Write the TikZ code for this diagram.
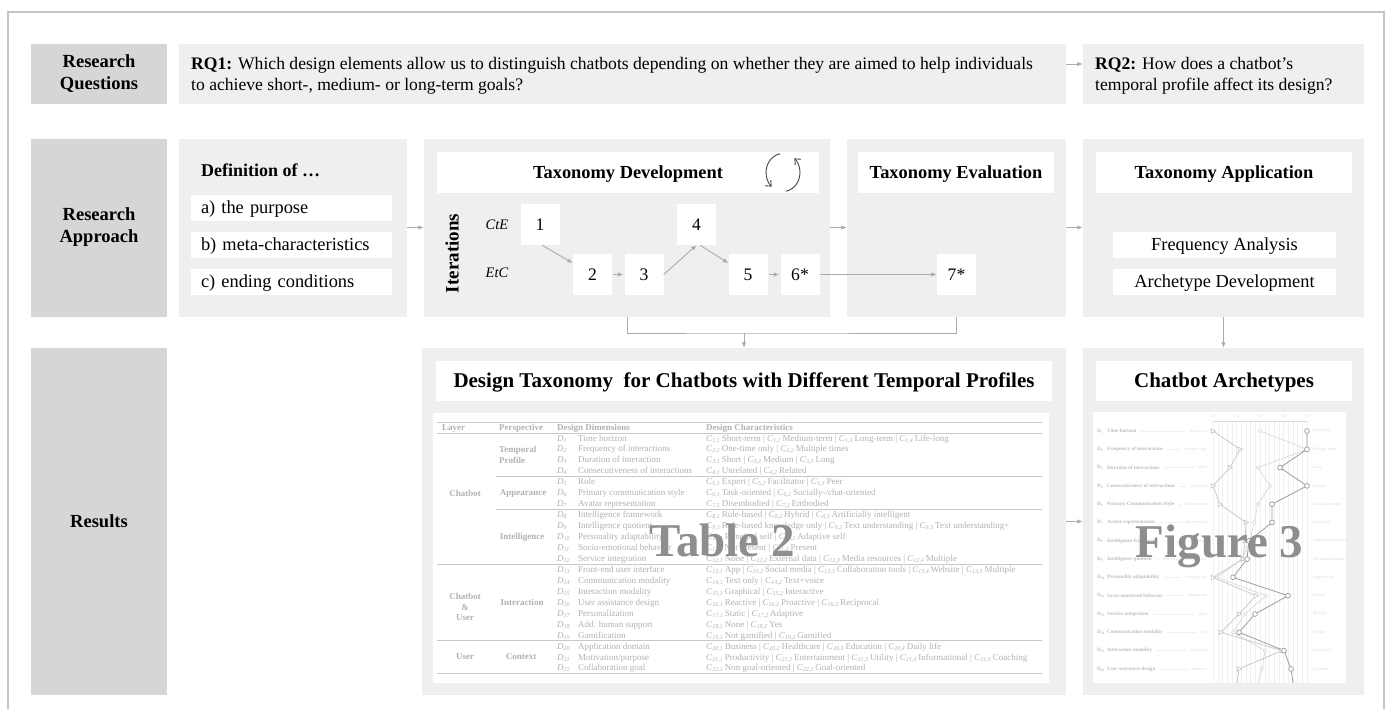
\documentclass[tikz,border=0pt]{standalone}
\usepackage{fontspec}
\setmainfont{Liberation Serif}
\usetikzlibrary{arrows.meta}
\definecolor{labc}{HTML}{D6D6D6}
\definecolor{panc}{HTML}{EFEFEF}
\definecolor{arrc}{HTML}{ABABAB}
\definecolor{frmc}{HTML}{C4C4C4}
\definecolor{tabc}{HTML}{B2B2B2}
\definecolor{rulec}{HTML}{C8C8C8}
\definecolor{bigc}{HTML}{8E8E8E}
\definecolor{icoc}{HTML}{444444}
\definecolor{figa}{HTML}{9C9C9C}
\definecolor{figb}{HTML}{C6C6C6}
\definecolor{figc}{HTML}{DADADA}
\definecolor{figt}{HTML}{BDBDBD}
\definecolor{gridc}{HTML}{F0F0F0}
\newcommand\cx[1]{\textit{C}\textsubscript{\textit{#1}}\,}
\newcommand\dx[1]{\textit{D}\textsubscript{\textit{#1}}}
\newcommand\trow[3]{%
  \node[tx,anchor=base west] (td#1) at (557,{441+(#1-1)*10.95}) {\dx{#1}};
  \node[tx,anchor=base west] (tn#1) at (578,{441+(#1-1)*10.95}) {#2};
  \node[tx,anchor=base west] (tc#1) at (706,{441+(#1-1)*10.95}) {#3};}
\begin{document}
\begin{tikzpicture}[x=1pt,y=-1pt,
  lab/.style={fill=labc, inner sep=0pt, font=\fontsize{18.5}{22}\selectfont\bfseries, align=center},
  pan/.style={fill=panc, inner sep=0pt},
  wb/.style={fill=white, inner sep=0pt},
  ttl/.style={fill=white, inner sep=0pt, font=\fontsize{18.4}{20}\selectfont\bfseries, text height=12pt, text depth=1pt},
  ttlb/.style={ttl, font=\fontsize{21}{22}\selectfont\bfseries, text height=13.5pt, text depth=1pt},
  item/.style={fill=white, inner sep=0pt, font=\fontsize{18.4}{20}\selectfont, text height=12pt, text depth=1pt},
  body/.style={inner sep=0pt, font=\fontsize{17.6}{21}\selectfont},
  nb/.style={fill=white, inner sep=0pt, minimum width=39pt, minimum height=41pt, font=\fontsize{17.6}{20}\selectfont, text height=11.5pt, text depth=0pt},
  con/.style={draw=arrc, line width=0.9pt},
  arw/.style={con, -{Latex[length=5.5pt,width=4.5pt]}},
  tx/.style={inner sep=0pt, text=tabc, font=\fontsize{9}{10}\selectfont},
  txb/.style={tx, font=\fontsize{9}{10.5}\selectfont\bfseries},
  tr/.style={draw=rulec, line width=0.5pt},
  big/.style={inner sep=0pt, text=bigc, font=\fontsize{47}{50}\selectfont\bfseries},
  fl/.style={inner sep=0pt, text=figt, font=\fontsize{5.1}{5.5}\selectfont\bfseries},
  fs/.style={inner sep=0pt, text=figc, font=\fontsize{4}{4.5}\selectfont\itshape},
  ico/.style={draw=icoc, line width=0.9pt, -{Straight Barb[length=4.5pt,width=8pt]}}
]
\useasboundingbox (0,0) rectangle (1389,709);
\fill[white] (0,0) rectangle (1389,709);
\draw[frmc, line width=1.6pt] (8,12) rectangle (1384,730);

% ---------- row 1
\node[lab, minimum width=136pt, minimum height=60pt] (rq) at (99,74) {Research\\Questions};
\node[pan, minimum width=887pt, minimum height=60pt] (rq1) at (622.5,74) {};
\node[body, anchor=west, align=left] (rq1t) at (191,75.5) {\textbf{RQ1:} Which design elements allow us to distinguish chatbots depending on whether they are aimed to help individuals\\to achieve short-, medium- or long-term goals?};
\node[pan, minimum width=281pt, minimum height=60pt] (rq2) at (1223.5,74) {};
\node[body, anchor=west, align=left] (rq2t) at (1095,75.5) {\textbf{RQ2:} How does a chatbot’s\\temporal profile affect its design?};
\draw[arw] ([yshift=10pt]rq1.east) -- ([yshift=10pt]rq2.west);

% ---------- row 2
\node[lab, minimum width=136pt, minimum height=178pt] (ra) at (99,227.5) {Research\\Approach};
\node[pan, minimum width=228pt, minimum height=178pt] (def) at (293,227.5) {};
\node[body, anchor=base west, font=\fontsize{18}{20}\selectfont\bfseries] (deft) at (201,176) {Definition of \ldots};
\node[item, minimum width=201pt, minimum height=26pt, text width=181pt, align=left] (da) at (291.5,208) {a) the purpose};
\node[item, minimum width=201pt, minimum height=26pt, text width=181pt, align=left] (db) at (291.5,245) {b) meta-characteristics};
\node[item, minimum width=201pt, minimum height=26pt, text width=181pt, align=left] (dc) at (291.5,282) {c) ending conditions};

\node[pan, minimum width=406pt, minimum height=178pt] (tdev) at (627,227.5) {};
\node[ttl, minimum width=382pt, minimum height=41pt] (tdevt) at (628,172.5) {Taxonomy Development};
\node[pan, minimum width=219pt, minimum height=178pt] (eval) at (956.5,227.5) {};
\node[ttl, minimum width=196pt, minimum height=41pt] (evalt) at (956,172.5) {Taxonomy Evaluation};
\node[pan, minimum width=281pt, minimum height=178pt] (app) at (1223.5,227.5) {};
\node[ttl, minimum width=256pt, minimum height=41pt] (appt) at (1224,172.5) {Taxonomy Application};
\node[item, minimum width=223pt, minimum height=26pt] (fa) at (1224.5,245) {Frequency Analysis};
\node[item, minimum width=223pt, minimum height=26pt] (ad) at (1224.5,282) {Archetype Development};

% cycle icon
\begin{scope}[shift={(783,172.5)}, yscale=-1]
  \draw[ico] (100:17 and 19) arc[start angle=100, end angle=228, x radius=17, y radius=19];
  \draw[ico] (280:17 and 19) arc[start angle=280, end angle=408, x radius=17, y radius=19];
\end{scope}

\node[inner sep=0pt, rotate=90, font=\fontsize{19}{20}\selectfont\bfseries] (iter) at (452,253.5) {Iterations};
\node[inner sep=0pt, font=\fontsize{14.5}{16}\selectfont\itshape] (cte) at (497,225) {CtE};
\node[inner sep=0pt, font=\fontsize{14.5}{16}\selectfont\itshape] (etc) at (497,273) {EtC};

\node[nb] (n1) at (540,224.5) {1};
\node[nb] (n2) at (592.5,274.5) {2};
\node[nb] (n3) at (644,274.5) {3};
\node[nb] (n4) at (696.5,224.5) {4};
\node[nb] (n5) at (748,274.5) {5};
\node[nb] (n6) at (800,274.5) {6*};
\node[nb] (n7) at (956.5,274.5) {7*};

\draw[arw] (n1.-84) -- (n2.150);
\draw[arw, shorten <=1pt, shorten >=1pt] (n2.east) -- (n3.west);
\draw[arw] (n3.east) -- (n4.south);
\draw[arw] (n4.-80) -- (n5.150);
\draw[arw, shorten <=1pt, shorten >=1pt] (n5.east) -- (n6.west);
\draw[arw] (n6.east) -- (n7.west);

\draw[arw] (def.east) -- (tdev.west);
\draw[arw] (tdev.east) -- (eval.west);
\draw[arw] (eval.east) -- (app.west);

% ---------- row 3
\node[lab, minimum width=136pt, minimum height=347pt] (res) at (99,521.5) {Results};
\node[pan, minimum width=644pt, minimum height=347pt] (dtax) at (744,521.5) {};
\node[ttlb, minimum width=616pt, minimum height=40pt] (dtaxt) at (744,381) {Design Taxonomy\ \ for Chatbots with Different Temporal Profiles};
\node[wb, minimum width=616pt, minimum height=270pt] (tab) at (741,548) {};
\node[pan, minimum width=281pt, minimum height=347pt] (arch) at (1223.5,521.5) {};
\node[ttlb, minimum width=256pt, minimum height=40pt] (archt) at (1224,381) {Chatbot Archetypes};
\node[wb, minimum width=253pt, minimum height=271pt] (fig) at (1219.5,547.5) {};

\coordinate (j) at (744,333);
\draw[con] (tdev.south) |- (j) -| (eval.south);
\draw[arw] (j) -- (dtax.north);
\draw[arw] (app.south) -- (arch.north);
\draw[arw] (dtax.east) -- (arch.west);

% ---------- table 2
\draw[tr] (437,422) -- (1042,422);
\draw[tr] (437,433) -- (1042,433);
\draw[tr] (496,476.3) -- (1042,476.3);
\draw[tr] (496,509.2) -- (1042,509.2);
\draw[tr] (437,563.9) -- (1042,563.9);
\draw[tr] (437,640.6) -- (1042,640.6);
\draw[tr] (437,673.5) -- (1042,673.5);
\node[txb, anchor=base west] (hl) at (442,430.5) {Layer};
\node[txb, anchor=base west] (hp) at (499,430.5) {Perspective};
\node[txb, anchor=base west] (hd) at (557,430.5) {Design Dimensions};
\node[txb, anchor=base west] (hc) at (706,430.5) {Design Characteristics};
\node[txb] (l1) at (465,493) {Chatbot};
\node[txb, align=center] (l2) at (465,607) {Chatbot\\\&\\User};
\node[txb] (l3) at (465,657) {User};
\node[txb, anchor=west, align=left] (p1) at (499,455) {Temporal\\Profile};
\node[txb] (p2) at (523,493) {Appearance};
\node[txb] (p3) at (522,537) {Intelligence};
\node[txb] (p4) at (522,602) {Interaction};
\node[txb] (p5) at (521,657) {Context};
\trow{1}{Time horizon}{\cx{1,1}Short-term | \cx{1,2}Medium-term | \cx{1,3}Long-term | \cx{1,4}Life-long}
\trow{2}{Frequency of interactions}{\cx{2,1}One-time only | \cx{2,2}Multiple times}
\trow{3}{Duration of interaction}{\cx{3,1}Short | \cx{3,2}Medium | \cx{3,3}Long}
\trow{4}{Consecutiveness of interactions}{\cx{4,1}Unrelated | \cx{4,2}Related}
\trow{5}{Role}{\cx{5,1}Expert | \cx{5,2}Facilitator | \cx{5,3}Peer}
\trow{6}{Primary communication style}{\cx{6,1}Task-oriented | \cx{6,2}Socially-/chat-oriented}
\trow{7}{Avatar representation}{\cx{7,1}Disembodied | \cx{7,2}Embodied}
\trow{8}{Intelligence framework}{\cx{8,1}Rule-based | \cx{8,2}Hybrid | \cx{8,3}Artificially intelligent}
\trow{9}{Intelligence quotient}{\cx{9,1}Rule-based knowledge only | \cx{9,2}Text understanding | \cx{9,3}Text understanding+}
\trow{10}{Personality adaptability}{\cx{10,1}Principal self | \cx{10,2}Adaptive self}
\trow{11}{Socio-emotional behavior}{\cx{11,1}Not present | \cx{11,2}Present}
\trow{12}{Service integration}{\cx{12,1}None | \cx{12,2}External data | \cx{12,3}Media resources | \cx{12,4}Multiple}
\trow{13}{Front-end user interface}{\cx{13,1}App | \cx{13,2}Social media | \cx{13,3}Collaboration tools | \cx{13,4}Website | \cx{13,5}Multiple}
\trow{14}{Communication modality}{\cx{14,1}Text only | \cx{14,2}Text+voice}
\trow{15}{Interaction modality}{\cx{15,1}Graphical | \cx{15,2}Interactive}
\trow{16}{User assistance design}{\cx{16,1}Reactive | \cx{16,2}Proactive | \cx{16,3}Reciprocal}
\trow{17}{Personalization}{\cx{17,1}Static | \cx{17,2}Adaptive}
\trow{18}{Add. human support}{\cx{18,1}None | \cx{18,2}Yes}
\trow{19}{Gamification}{\cx{19,1}Not gamified | \cx{19,2}Gamified}
\trow{20}{Application domain}{\cx{20,1}Business | \cx{20,2}Healthcare | \cx{20,3}Education | \cx{20,4}Daily life}
\trow{21}{Motivation/purpose}{\cx{21,1}Productivity | \cx{21,2}Entertainment | \cx{21,3}Utility | \cx{21,4}Informational | \cx{21,5}Coaching}
\trow{22}{Collaboration goal}{\cx{22,1}Non goal-oriented | \cx{22,2}Goal-oriented}
\node[big, anchor=base] (t2) at (722,556) {Table 2};

% ---------- figure 3
\foreach \g in {0,...,20} \draw[gridc, line width=0.4pt] ({1213+\g*4.7},421) -- ({1213+\g*4.7},683);
\draw[figc, line width=0.5pt] (1213,421) -- (1307,421);
\foreach \v [count=\q from 0] in {1.0,2.0,3.0,4.0,5.0} \node[fs] (tk\q) at ({1213+\q*23.5},416.5) {\v};
\foreach \k/\d/\nm/\l/\r in {0/1/{Time horizon}/{Short-term}/{Long-term},
  1/2/{Frequency of interactions}/{One-time only}/{Multiple times},
  2/3/{Duration of interactions}/{Short}/{Long},
  3/4/{Consecutiveness of interactions}/{Unrelated}/{Related},
  4/6/{Primary Communication Style}/{Task-oriented}/{Socially-oriented},
  5/7/{Avatar representation}/{Disembodied}/{Embodied},
  6/8/{Intelligence framework}/{Rule-based}/{Artificially intelligent},
  7/9/{Intelligence quotient}/{Rule-based knowledge only}/{Text understanding+},
  8/10/{Personality adaptability}/{Principal self}/{Adaptive self},
  9/11/{Socio-emotional behavior}/{Not present}/{Present},
  10/12/{Service integration}/{None}/{Multiple},
  11/14/{Communication modality}/{Text}/{Hybrid},
  12/15/{Interaction modality}/{Graphical}/{Interactive},
  13/16/{User assistance design}/{Reactive}/{Proactive}} {
  \node[fl, anchor=west] (fd\k) at (1097,{431+\k*18.3}) {D\textsubscript{\d}};
  \node[fl, anchor=west] (fn\k) at (1107,{431+\k*18.3}) {\nm};
  \node[fs, anchor=east] (fll\k) at (1207,{431+\k*18.3}) {\l};
  \node[fs, anchor=west] (flr\k) at (1313,{431+\k*18.3}) {\r};
  \draw[gridc, line width=0.5pt] ([xshift=4pt]fn\k.east) -- ([xshift=-4pt]fll\k.west);
}
\draw[figc, line width=0.7pt] plot coordinates {(1260,431) (1307,449.3) (1258,467.6) (1270,485.9) (1258,504.2) (1254,522.5) (1250,540.8) (1242,559.1) (1217,577.4) (1266,595.7) (1245,614) (1233,632.3) (1265,650.6) (1262,668.9) (1258,683)};
\draw[figb, line width=0.7pt] plot coordinates {(1213,431) (1240,449.3) (1230,467.6) (1213,485.9) (1220,504.2) (1246,522.5) (1245,540.8) (1243,559.1) (1213,577.4) (1256,595.7) (1239,614) (1221,632.3) (1282,650.6) (1239,668.9) (1237,683)};
\draw[figa, line width=0.8pt] plot coordinates {(1307,431) (1307,449.3) (1280,467.6) (1307,485.9) (1272,504.2) (1272,522.5) (1249,540.8) (1247,559.1) (1233,577.4) (1288,595.7) (1255,614) (1239,632.3) (1284,650.6) (1291,668.9) (1293,683)};
\foreach \x/\y in {1260/431,1307/449.3,1258/467.6,1270/485.9,1258/504.2,1254/522.5,1250/540.8,1242/559.1,1217/577.4,1266/595.7,1245/614,1233/632.3,1265/650.6,1262/668.9}
  \draw[figc, fill=white, line width=0.6pt] (\x,\y) circle (1.8pt);
\foreach \x/\y in {1213/431,1240/449.3,1230/467.6,1213/485.9,1220/504.2,1246/522.5,1245/540.8,1243/559.1,1213/577.4,1256/595.7,1239/614,1221/632.3,1282/650.6,1239/668.9}
  \draw[figb, fill=white, line width=0.6pt] (\x-1.8,\y-2.2) -- (\x+2.6,\y) -- (\x-1.8,\y+2.2) -- cycle;
\foreach \x/\y in {1307/431,1307/449.3,1280/467.6,1307/485.9,1272/504.2,1272/522.5,1249/540.8,1247/559.1,1233/577.4,1288/595.7,1255/614,1239/632.3,1284/650.6,1291/668.9}
  \draw[figa, fill=white, line width=0.7pt] (\x,\y) circle (2.4pt);
\node[big, anchor=base] (f3) at (1219.5,557) {Figure 3};
\end{tikzpicture}
\end{document}
